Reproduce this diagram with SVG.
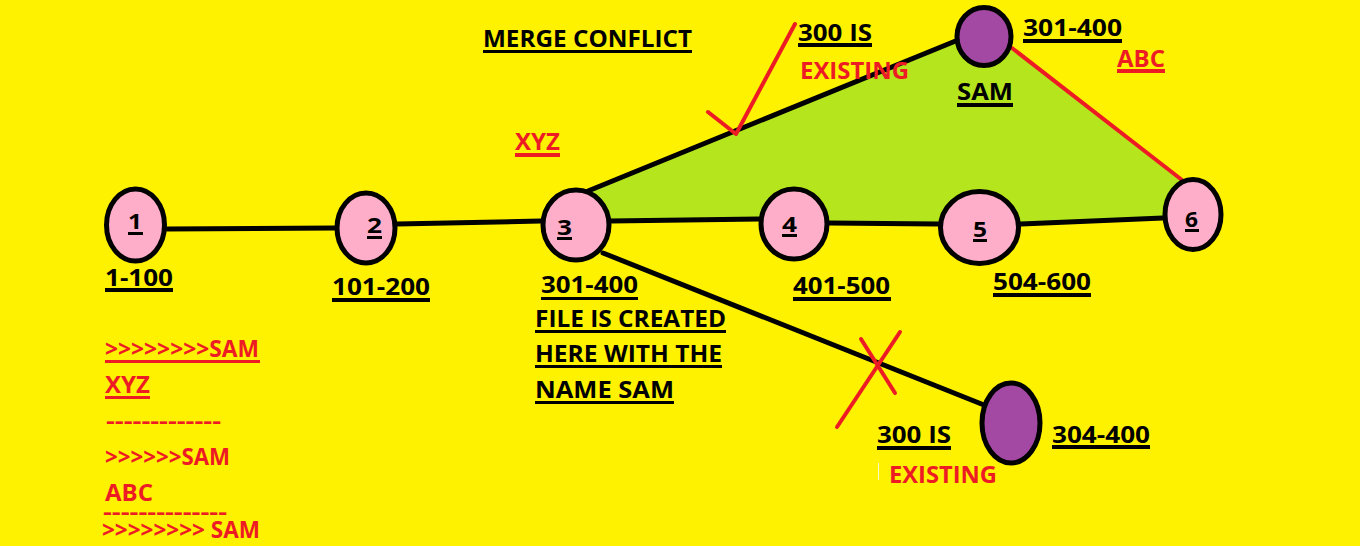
<svg xmlns="http://www.w3.org/2000/svg" width="1360" height="546" viewBox="0 0 1360 546">
<style>
.t{font-family:"Open Sans","Liberation Sans",sans-serif;font-weight:700;font-size:24px}
.k{fill:#000}
.r{fill:#ED1C24}
.n{font-size:21px}
.d{font-size:22px}
.ul{fill:#000}
.ulr{fill:#ED1C24}
.node{fill:#FFAEC9;stroke:#000;stroke-width:5}
.pur{fill:#A349A4;stroke:#000;stroke-width:5}
.edge{stroke:#000;stroke-width:5;fill:none;stroke-linecap:round}
.red{stroke:#ED1C24;stroke-width:4;fill:none;stroke-linecap:round;stroke-linejoin:round}
</style>
<rect width="1360" height="546" fill="#FFF200"/>
<polygon points="588,192 960,40 1012,48 1182,180 1168,218 1021,224 980,226 829,223 794,220 611,221 576,225" fill="#B5E61D"/>
<g id="connectors">
<line class="edge" x1="167" y1="229" x2="335" y2="228"/>
<line class="edge" x1="397" y1="224" x2="541" y2="221"/>
<line class="edge" x1="611" y1="221" x2="759" y2="219"/>
<line class="edge" x1="829" y1="223" x2="938" y2="224"/>
<line class="edge" x1="1021" y1="224" x2="1163" y2="218"/>
<line class="edge" x1="588" y1="191" x2="958" y2="40"/>
<line class="edge" x1="603" y1="253" x2="984" y2="405"/>
<line class="red" x1="1012" y1="48" x2="1182" y2="180"/>
</g>
<g id="node1"><ellipse class="node" cx="135.5" cy="225" rx="29" ry="36"/><text class="t k n" x="128" y="229" textLength="14" lengthAdjust="spacingAndGlyphs">1</text><rect class="ul" x="128" y="232" width="15" height="3"/></g>
<g id="node2"><ellipse class="node" cx="366" cy="228" rx="29" ry="35"/><text class="t k n" x="367" y="233" textLength="15" lengthAdjust="spacingAndGlyphs">2</text><rect class="ul" x="367" y="236" width="15" height="3"/></g>
<g id="node3"><ellipse class="node" cx="576" cy="225" rx="33" ry="35"/><text class="t k n" x="557" y="235" textLength="15" lengthAdjust="spacingAndGlyphs">3</text><rect class="ul" x="557" y="237" width="15" height="3"/></g>
<g id="node4"><ellipse class="node" cx="794" cy="224" rx="33" ry="35"/><text class="t k n" x="782" y="232" textLength="15" lengthAdjust="spacingAndGlyphs">4</text><rect class="ul" x="782" y="234" width="15" height="3"/></g>
<g id="node5"><ellipse class="node" cx="979.5" cy="227.5" rx="39" ry="36"/><text class="t k n" x="973" y="237" textLength="14" lengthAdjust="spacingAndGlyphs">5</text><rect class="ul" x="973" y="239" width="14" height="3"/></g>
<g id="node6"><ellipse class="node" cx="1193" cy="214.5" rx="28" ry="35"/><text class="t k n" x="1185" y="227" textLength="13" lengthAdjust="spacingAndGlyphs">6</text><rect class="ul" x="1185" y="229" width="14" height="3"/></g>
<g id="nodeSam"><ellipse class="pur" cx="984" cy="36.5" rx="27" ry="29"/></g>
<g id="nodeBottom"><ellipse class="pur" cx="1011" cy="423" rx="29" ry="40"/></g>
<g id="marks">
<polyline class="red" points="708,112 736,134 795,24"/>
<line class="red" x1="900" y1="332" x2="837" y2="427"/>
<line class="red" x1="861" y1="339" x2="895" y2="393"/>
<line x1="878.5" y1="463" x2="878.5" y2="480" stroke="#FFFBC8" stroke-width="1"/>
</g>
<g id="labels">
<text class="t k" x="483" y="47" textLength="209" lengthAdjust="spacingAndGlyphs" style="font-size:23px">MERGE CONFLICT</text><rect class="ul" x="483" y="50" width="209" height="3"/>
<text class="t k" x="798" y="41" textLength="74" lengthAdjust="spacingAndGlyphs">300 IS</text><rect class="ul" x="798" y="43" width="74" height="4"/>
<text class="t r" x="800" y="79" textLength="109" lengthAdjust="spacingAndGlyphs">EXISTING</text>
<text class="t r" x="515" y="150" textLength="45" lengthAdjust="spacingAndGlyphs">XYZ</text><rect class="ulr" x="515" y="153" width="45" height="4"/>
<text class="t k" x="1023" y="36" textLength="99" lengthAdjust="spacingAndGlyphs">301-400</text><rect class="ul" x="1023" y="39" width="99" height="4"/>
<text class="t r" x="1117" y="67" textLength="48" lengthAdjust="spacingAndGlyphs">ABC</text><rect class="ulr" x="1117" y="69" width="48" height="4"/>
<text class="t k" x="957" y="100" textLength="56" lengthAdjust="spacingAndGlyphs">SAM</text><rect class="ul" x="957" y="103" width="56" height="4"/>
<text class="t k" x="105" y="286" textLength="68" lengthAdjust="spacingAndGlyphs">1-100</text><rect class="ul" x="105" y="288" width="68" height="4"/>
<text class="t k" x="332" y="295" textLength="98" lengthAdjust="spacingAndGlyphs">101-200</text><rect class="ul" x="332" y="298" width="98" height="4"/>
<text class="t k" x="541" y="293" textLength="97" lengthAdjust="spacingAndGlyphs">301-400</text><rect class="ul" x="541" y="297" width="97" height="3"/>
<text class="t k" x="535" y="327" textLength="191" lengthAdjust="spacingAndGlyphs">FILE IS CREATED</text><rect class="ul" x="535" y="330" width="191" height="3"/>
<text class="t k" x="535" y="362" textLength="187" lengthAdjust="spacingAndGlyphs">HERE WITH THE</text><rect class="ul" x="535" y="365" width="187" height="3"/>
<text class="t k" x="535" y="398" textLength="139" lengthAdjust="spacingAndGlyphs">NAME SAM</text><rect class="ul" x="535" y="401" width="139" height="3"/>
<text class="t k" x="793" y="294" textLength="97" lengthAdjust="spacingAndGlyphs">401-500</text><rect class="ul" x="793" y="297" width="98" height="4"/>
<text class="t k" x="993" y="290" textLength="98" lengthAdjust="spacingAndGlyphs">504-600</text><rect class="ul" x="993" y="293" width="98" height="4"/>
<text class="t k" x="877" y="443" textLength="74" lengthAdjust="spacingAndGlyphs">300 IS</text><rect class="ul" x="877" y="446" width="74" height="4"/>
<text class="t r" x="889" y="483" textLength="108" lengthAdjust="spacingAndGlyphs">EXISTING</text>
<text class="t k" x="1052" y="443" textLength="98" lengthAdjust="spacingAndGlyphs">304-400</text><rect class="ul" x="1052" y="445" width="98" height="4"/>
<text class="t r" x="105" y="357" textLength="154" lengthAdjust="spacingAndGlyphs">&gt;&gt;&gt;&gt;&gt;&gt;&gt;&gt;SAM</text><rect class="ulr" x="105" y="360" width="155" height="3"/>
<text class="t r" x="105" y="393" textLength="45" lengthAdjust="spacingAndGlyphs">XYZ</text><rect class="ulr" x="105" y="396" width="45" height="3"/>
<text class="t r d" x="106" y="428" textLength="115" lengthAdjust="spacingAndGlyphs">-------------</text>
<text class="t r" x="105" y="465" textLength="125" lengthAdjust="spacingAndGlyphs">&gt;&gt;&gt;&gt;&gt;&gt;SAM</text>
<text class="t r" x="105" y="501" textLength="48" lengthAdjust="spacingAndGlyphs">ABC</text>
<text class="t r d" x="103" y="519" textLength="124" lengthAdjust="spacingAndGlyphs">--------------</text>
<text class="t r" x="102" y="538" textLength="158" lengthAdjust="spacingAndGlyphs">&gt;&gt;&gt;&gt;&gt;&gt;&gt;&gt; SAM</text>
</g>
</svg>
